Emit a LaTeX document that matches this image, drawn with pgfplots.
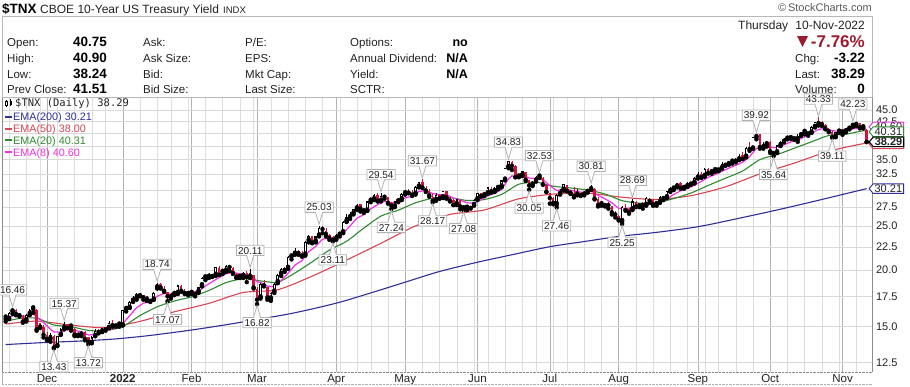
\documentclass[border=0pt]{standalone}
\usepackage{fontspec}
\setmainfont{Liberation Sans}
\newfontfamily\monof{DejaVu Sans Mono}
\usepackage{pgfplots}
\usepackage{pgfplotstable}
\pgfplotsset{compat=1.18}
\usetikzlibrary{shapes.callouts,shapes.symbols}
\newcommand\fs[1]{\fontsize{#1}{#1}\selectfont}
\definecolor{cred}{HTML}{D0143C}
\definecolor{ema200}{HTML}{2E2E96}
\definecolor{ema50}{HTML}{D84452}
\definecolor{ema20}{HTML}{2F8A2F}
\definecolor{ema8}{HTML}{EE30E6}
\definecolor{hdr}{HTML}{9B1B30}
\definecolor{txt}{HTML}{222222}

\pgfplotstableread{
i o h l c t
-12 15.7 15.8 15.4 15.6 2
-11 15.6 16.2 15.6 16.1 1
-10 16.2 16.46 16.0 16.3 1
-9 16.3 16.4 15.9 16.0 0
-8 16.0 16.1 15.8 15.9 0
-7 15.8 15.9 15.3 15.4 0
-6 15.5 16.0 15.4 15.9 1
-5 16.0 16.4 15.9 16.3 1
-4 16.45 16.45 16.1 16.4 2
-3 16.3 16.4 14.7 14.8 0
-2 15.3 15.3 14.9 15.0 0
-1 15.0 15.1 14.2 14.4 0
0 14.4 14.6 14.0 14.1 0
1 14.1 14.5 13.9 14.4 1
2 14.3 14.4 13.43 13.5 0
3 13.6 14.3 13.6 14.3 1
4 14.4 14.9 14.4 14.8 1
5 14.9 15.37 14.8 15.2 1
6 15.2 15.2 14.9 14.9 0
7 15.0 15.1 14.7 14.9 2
8 14.8 14.9 14.3 14.4 0
9 14.5 14.6 14.3 14.4 0
10 14.4 14.7 14.3 14.6 1
11 14.6 14.7 14.0 14.1 0
12 14.2 14.2 13.72 13.9 0
13 13.8 14.3 13.8 14.2 1
14 14.3 14.8 14.3 14.7 1
15 14.7 14.8 14.5 14.6 0
16 14.6 14.9 14.6 14.9 1
17 14.9 14.95 14.7 14.8 0
18 14.9 15.4 14.9 15.3 1
19 15.3 15.5 15.0 15.1 0
20 15.2 15.2 15.0 15.1 0
21 15.15 15.2 15.0 15.1 2
22 15.1 16.3 15.1 16.3 1
23 16.4 16.6 16.2 16.5 1
24 16.5 17.1 16.5 17.0 1
25 17.1 17.5 17.0 17.3 1
26 17.3 17.8 17.2 17.7 1
27 17.7 17.8 17.5 17.6 0
28 17.6 17.6 17.2 17.4 0
29 17.4 17.5 17.1 17.3 0
30 17.2 17.3 17.0 17.1 0
31 17.2 17.9 17.2 17.8 1
32 18.3 18.74 18.2 18.6 1
33 18.6 18.7 18.2 18.3 0
34 18.2 18.4 17.9 18.0 0
35 17.9 17.9 17.07 17.5 0
36 17.4 17.8 17.3 17.7 1
37 17.7 17.9 17.6 17.8 1
38 17.8 18.5 17.7 18.5 1
39 18.4 18.5 17.9 18.0 0
40 18.0 18.2 17.7 17.8 0
41 17.9 17.9 17.6 17.8 0
42 17.8 18.1 17.7 17.9 1
43 17.9 17.95 17.5 17.7 0
44 17.9 18.3 17.8 18.3 1
45 18.5 19.3 18.4 19.2 1
46 19.25 19.3 19.0 19.2 2
47 19.3 19.7 19.2 19.6 1
48 19.5 19.6 19.3 19.4 0
49 19.5 20.3 19.4 20.3 1
50 20.2 20.4 19.5 19.5 0
51 19.8 20.0 19.6 19.9 1
52 19.9 20.5 19.8 20.4 1
53 20.4 20.5 19.9 20.3 0
54 20.2 20.3 19.6 19.7 0
55 19.6 19.7 19.2 19.3 0
56 19.3 19.5 19.2 19.4 1
57 19.4 19.8 19.2 19.7 1
58 19.7 19.9 18.8 19.3 0
59 19.3 20.11 19.2 19.7 1
60 19.5 19.5 18.2 18.3 0
61 18.2 18.3 16.82 17.2 0
62 17.4 18.7 17.3 18.6 1
63 18.7 19.0 18.4 18.5 0
64 18.3 18.3 17.2 17.4 0
65 17.3 17.9 17.1 17.8 1
66 17.9 18.7 17.8 18.6 1
67 18.8 19.6 18.7 19.5 1
68 19.6 20.2 19.4 20.1 1
69 20.1 20.3 19.8 20.0 0
70 20.2 21.5 20.1 21.4 1
71 21.4 21.7 21.1 21.6 1
72 21.7 22.3 21.6 21.9 1
73 21.9 22.1 21.6 21.8 0
74 21.8 22.0 21.4 21.5 0
75 21.6 23.2 21.5 23.1 1
76 23.2 23.9 23.0 23.8 1
77 23.7 23.8 22.9 23.0 0
78 23.1 23.8 23.0 23.7 1
79 23.8 25.03 23.7 24.8 1
80 24.9 24.95 24.1 24.6 0
81 24.4 24.7 23.7 24.0 0
82 23.9 24.0 23.3 23.5 0
83 23.5 23.7 23.11 23.3 0
84 23.4 24.0 23.3 23.9 1
85 23.9 24.3 23.7 24.2 1
86 24.2 25.6 24.1 25.5 1
87 25.6 26.5 25.5 26.1 1
88 26.1 26.8 25.9 26.6 1
89 26.6 27.3 26.5 27.2 1
90 27.3 27.9 27.1 27.8 1
91 27.9 28.0 26.9 27.3 0
92 26.9 27.3 26.7 27.1 3
93 27.0 28.4 27.0 28.3 1
94 28.4 28.8 28.2 28.6 1
95 28.6 29.4 28.5 29.3 1
96 29.3 29.5 28.3 28.4 0
97 28.4 29.54 28.3 29.1 1
98 29.1 29.3 28.7 29.0 0
99 28.9 29.0 28.0 28.1 0
100 28.1 28.2 27.24 27.7 0
101 27.6 28.4 27.5 28.3 1
102 28.3 28.8 28.2 28.5 1
103 28.6 29.5 28.5 29.4 1
104 29.5 30.0 29.3 29.9 1
105 29.9 30.1 29.5 29.6 0
106 29.6 30.0 29.1 29.3 0
107 29.4 30.6 29.3 30.5 1
108 30.5 31.3 30.4 31.2 1
109 31.3 31.67 30.3 30.4 0
110 30.3 30.6 29.7 29.9 0
111 29.9 30.1 29.0 29.2 0
112 29.0 29.4 28.17 28.4 0
113 28.5 29.5 28.4 29.3 1
114 29.3 29.4 28.7 28.8 0
115 28.9 29.9 28.8 29.8 1
116 29.8 29.9 28.7 28.9 0
117 28.8 28.9 28.3 28.4 0
118 28.5 28.6 27.8 27.8 0
119 27.9 28.6 27.8 28.6 1
120 28.5 28.5 27.2 27.6 0
121 27.6 27.7 27.08 27.5 0
122 27.4 27.6 27.1 27.5 1
123 27.5 27.6 27.3 27.4 0
124 27.8 28.6 27.7 28.5 1
125 28.6 29.6 28.5 29.5 1
126 29.5 29.6 29.0 29.1 0
127 29.2 29.6 29.1 29.5 1
128 29.5 30.4 29.4 30.4 1
129 30.2 30.4 29.6 29.8 0
130 29.8 30.4 29.7 30.3 1
131 30.3 30.5 30.1 30.4 1
132 30.5 31.6 30.4 31.5 1
133 31.6 33.6 31.5 33.6 1
134 33.7 34.83 33.5 34.8 1
135 34.6 34.8 33.2 33.9 0
136 33.8 34.0 32.0 32.0 0
137 32.1 32.6 32.0 32.3 1
138 32.3 33.1 32.2 33.0 1
139 32.8 32.9 31.4 31.6 0
140 31.5 31.6 30.05 30.7 0
141 30.8 31.4 30.6 31.3 1
142 31.4 32.2 31.3 32.0 1
143 32.1 32.53 31.9 32.0 2
144 31.9 32.0 30.8 30.9 0
145 30.8 30.9 29.7 29.7 0
146 29.6 29.6 28.0 28.8 0
147 28.8 28.9 27.9 28.1 0
148 27.9 29.4 27.46 29.3 1
149 29.4 30.2 29.3 29.9 1
150 30.0 31.0 29.9 30.9 1
151 30.8 30.8 29.8 29.9 0
152 29.9 30.0 29.4 29.6 0
153 29.4 30.4 28.9 29.1 0
154 29.3 30.2 29.2 29.6 1
155 29.6 29.7 29.1 29.2 0
156 29.3 29.9 29.2 29.6 1
157 29.7 30.2 29.6 30.1 1
158 30.1 30.81 30.0 30.3 1
159 30.2 30.3 28.6 28.7 0
160 28.6 28.9 27.6 27.8 0
161 27.9 28.2 27.7 28.1 1
162 28.0 28.1 27.6 27.8 0
163 27.9 28.2 27.3 27.8 0
164 27.6 27.7 26.5 26.8 0
165 26.7 27.0 26.1 26.5 0
166 26.3 26.4 25.7 25.8 0
167 25.6 27.6 25.25 27.5 1
168 27.4 28.0 27.0 27.1 0
169 27.3 27.4 26.6 26.8 0
170 27.2 28.69 27.1 28.3 1
171 28.2 28.3 27.5 27.6 0
172 27.6 28.0 27.5 27.9 1
173 28.0 28.2 27.3 27.8 0
174 27.8 28.9 27.7 28.8 1
175 28.6 28.8 28.1 28.4 0
176 28.5 28.6 27.7 27.9 0
177 27.9 28.2 27.7 28.1 1
178 28.2 29.1 28.1 28.9 1
179 28.9 29.0 28.5 28.8 0
180 28.9 29.9 28.8 29.8 1
181 29.8 30.4 29.7 30.3 1
182 30.2 30.6 30.0 30.5 1
183 30.5 31.1 30.4 31.1 1
184 31.1 31.2 30.2 30.3 0
185 30.3 30.6 30.2 30.4 1
186 30.6 31.2 30.5 31.1 1
187 31.1 31.2 30.8 31.0 0
188 31.1 32.0 31.0 31.9 1
189 31.9 32.8 31.8 32.6 1
190 32.6 32.8 31.9 32.0 0
191 32.2 33.5 32.1 33.4 1
192 33.4 33.5 32.6 32.7 0
193 32.8 33.2 32.6 33.1 1
194 33.15 33.2 32.9 33.1 2
195 33.1 33.6 33.0 33.4 1
196 33.5 34.5 33.4 34.2 1
197 34.2 34.3 33.9 34.1 0
198 34.2 34.6 34.1 34.5 1
199 34.6 35.0 34.3 34.5 2
200 34.6 35.2 34.5 34.9 1
201 35.0 36.0 34.9 35.6 1
202 35.8 36.4 35.1 35.1 0
203 35.5 37.3 35.4 37.1 1
204 37.2 38.3 36.6 36.9 0
205 37.0 39.3 37.0 39.2 1
206 39.2 39.92 38.8 39.6 1
207 39.8 39.9 37.0 37.3 0
208 37.2 38.2 37.0 37.8 1
209 37.8 38.4 37.4 38.3 1
210 38.3 38.4 36.2 36.5 0
211 36.4 36.5 35.64 36.2 0
212 36.3 37.7 36.2 37.6 1
213 37.6 38.4 37.5 38.3 1
214 38.3 39.1 38.2 38.9 1
215 38.9 39.1 38.8 38.95 1
216 39.0 39.5 38.9 39.3 1
217 39.3 39.4 38.7 39.0 0
218 38.8 39.9 38.3 39.5 1
219 39.6 40.2 39.5 40.1 1
220 40.25 40.4 39.8 40.2 2
221 40.1 40.3 39.5 40.0 0
222 40.1 41.4 40.1 41.3 1
223 41.3 42.4 41.2 42.3 1
224 42.6 43.33 41.6 42.1 0
225 42.3 42.5 41.5 41.9 0
226 41.8 41.9 40.8 41.0 0
227 40.9 41.0 40.2 40.4 0
228 40.3 40.4 39.11 39.2 0
229 39.3 40.3 39.2 40.2 1
230 40.3 40.7 40.1 40.5 1
231 40.6 40.8 39.7 40.4 0
232 40.4 41.0 40.2 40.6 1
233 40.9 41.5 40.8 41.4 1
234 41.5 42.23 41.3 41.6 1
235 41.7 42.1 41.5 42.1 1
236 42.1 42.2 41.0 41.2 0
237 41.2 41.6 41.0 41.51 1
238 40.75 40.90 38.24 38.29 0
}\candles

\pgfplotstableread{
x y lab
-10 16.46 16.46
5 15.37 15.37
32 18.74 18.74
59 20.11 20.11
79 25.03 25.03
97 29.54 29.54
109 31.67 31.67
134 34.83 34.83
143 32.53 32.53
158 30.81 30.81
170 28.69 28.69
206 39.92 39.92
224 43.33 43.33
234 42.23 42.23
}\highs

\pgfplotstableread{
x y lab
2 13.43 13.43
12 13.72 13.72
35 17.07 17.07
61 16.82 16.82
83 23.11 23.11
100 27.24 27.24
112 28.17 28.17
121 27.08 27.08
140 30.05 30.05
148 27.46 27.46
167 25.25 25.25
211 35.64 35.64
228 39.11 39.11
}\lows

\pgfplotsset{
  body/.style n args={2}{only marks, mark=none, forget plot,
    error bars/y dir=plus, error bars/y explicit, error bars/error mark=none,
    error bars/error bar style={line width=#1, line cap=butt, color=#2}},
  lab/.style={only marks, mark=none, forget plot, nodes near coords, point meta=explicit symbolic,
    nodes near coords style={rectangle callout, /tikz/draw=black!30, /tikz/line width=0.8pt,
      /tikz/fill=white, text=txt,
      font=\fs{10}, inner xsep=1.6pt, inner ysep=1.5pt, text height=7.3pt, text depth=0pt,
      callout relative pointer={(canvas cs:x=0pt,y=#1)}, callout pointer width=7pt, anchor=pointer}},
}

\begin{document}
\begin{tikzpicture}
\useasboundingbox (0,0) rectangle (910pt,-386pt);
\begin{axis}[
  at={(2pt,-372pt)}, anchor=south west, scale only axis,
  width=870.5pt, height=275pt,
  xmin=-13.06, xmax=239.7,
  ymode=log, ymin=11.92, ymax=48.07,
  clip=false,
  ytick={12.5,15,17.5,20,22.5,25,27.5,30,32.5,35,37.5,40,42.5,45},
  yticklabels={12.5,15.0,17.5,20.0,22.5,25.0,27.5,30.0,32.5,35.0,37.5,40.0,42.5,45.0},
  minor ytick={},
  yticklabel pos=right,
  yticklabel style={font=\fs{11}, text=txt, xshift=0pt},
  xtick={0,22,42,61,84,104,125,146,166,189,210,231},
  xticklabels={Dec,\textbf{2022},Feb,Mar,Apr,May,Jun,Jul,Aug,Sep,Oct,Nov},
  xticklabel style={font=\fs{11.5}, text=txt, yshift=1pt},
  minor xtick={-11,-6,-2,3,8,13,17,27,32,36,41,46,51,56,60,65,70,75,80,85,90,94,99,109,114,119,124,128,133,138,142,147,151,156,161,171,176,181,186,191,195,200,205,215,220,225,230,235},
  xmajorgrids, xminorgrids, ymajorgrids,
  major x grid style={color=black!30},
  minor x grid style={color=black!13},
  major y grid style={color=black!15},
  tick style={draw=none},
  separate axis lines,
  axis line style={black!45},
  x axis line style={densely dotted},
]
% EMA lines
\addplot[ema200, line width=1.1pt, smooth, tension=0.5] coordinates {
(-12,13.7) (0,13.85) (10,13.95) (20,14.1) (30,14.35) (42,14.75) (52,15.15) (62,15.6) (72,16.1) (84,16.9) (94,17.8) (104,18.8) (114,19.85) (125,20.8) (135,21.6) (146,22.5) (156,23.1) (166,23.7) (177,24.2) (189,24.9) (200,25.9) (210,26.9) (220,28.0) (230,29.2) (238,30.21)};
\addplot[ema50, line width=1.1pt, smooth, tension=0.4] coordinates {
(-12,15.2) (-3,15.43) (7,15.12) (17,14.92) (27,15.41) (37,16.18) (47,16.88) (57,17.84) (67,18.09) (77,19.38) (87,21.03) (97,22.9) (107,25.0) (117,26.5) (127,27.11) (137,28.69) (147,29.38) (157,29.52) (167,28.92) (177,28.58) (187,29.15) (197,30.48) (207,32.56) (217,34.38) (227,36.53) (237,37.95) (238,38.00)};
\addplot[ema20, line width=1.1pt, smooth, tension=0.4] coordinates {
(-12,15.4) (-8,15.64) (-3,15.66) (2,15.13) (7,15.0) (12,14.72) (17,14.69) (22,15.01) (27,15.87) (32,16.59) (37,17.09) (42,17.45) (47,18.02) (52,18.76) (57,19.13) (62,18.92) (67,18.79) (72,19.70) (77,20.84) (82,22.12) (87,23.13) (92,24.73) (97,26.29) (102,27.08) (107,28.11) (112,28.77) (117,28.86) (122,28.44) (127,28.58) (132,29.33) (137,30.89) (142,31.21) (147,30.58) (152,30.31) (157,29.99) (162,29.40) (167,28.42) (172,28.06) (177,28.11) (182,28.73) (187,29.54) (192,30.70) (197,31.84) (202,33.04) (207,34.99) (212,35.90) (217,37.08) (222,38.31) (227,39.56) (232,39.81) (237,40.51) (238,40.31)};
\addplot[ema8, line width=1.2pt] coordinates {
(-12,15.6) (-10,15.84) (-8,15.88) (-6,15.80) (-4,16.02) (-3,15.75) (-2,15.58) (0,15.05) (2,14.60) (4,14.59) (6,14.77) (8,14.71) (10,14.63) (12,14.38) (14,14.42) (16,14.56) (18,14.76) (20,14.90) (22,15.24) (24,15.85) (26,16.51) (28,16.90) (30,17.01) (32,17.50) (34,17.75) (36,17.70) (38,17.89) (40,17.89) (42,17.88) (44,17.94) (46,18.44) (48,18.85) (50,19.25) (52,19.62) (54,19.75) (56,19.60) (58,19.55) (60,19.30) (61,18.83) (62,18.78) (64,18.43) (66,18.36) (68,18.94) (70,19.67) (72,20.50) (74,20.95) (76,21.95) (78,22.52) (80,23.38) (82,23.51) (84,23.56) (86,24.10) (88,25.00) (90,26.00) (92,26.47) (94,27.26) (96,27.86) (98,28.33) (100,28.15) (102,28.25) (104,28.82) (106,29.06) (108,29.78) (110,29.92) (112,29.46) (114,29.28) (116,29.29) (118,28.80) (120,28.50) (122,28.11) (124,28.07) (126,28.55) (128,29.12) (130,29.50) (132,30.10) (133,30.88) (134,31.75) (135,32.23) (136,32.18) (138,32.38) (140,31.87) (142,31.80) (144,31.64) (146,30.67) (148,29.92) (150,30.14) (152,29.98) (154,29.74) (156,29.62) (158,29.85) (160,29.20) (162,28.70) (164,28.12) (166,27.33) (168,27.31) (170,27.44) (172,27.57) (174,27.89) (176,27.98) (178,28.21) (180,28.66) (182,29.35) (184,29.87) (186,30.23) (188,30.74) (190,31.34) (192,32.00) (194,32.43) (196,32.99) (198,33.52) (200,34.00) (202,34.52) (204,35.49) (205,36.32) (206,37.04) (208,37.26) (210,37.27) (212,37.16) (214,37.74) (216,38.29) (218,38.68) (220,39.27) (222,39.84) (223,40.39) (224,40.77) (226,41.02) (228,40.51) (230,40.45) (232,40.48) (234,40.88) (236,41.16) (237,41.24) (238,40.60)};
% wicks
\addplot[body={0.6pt}{cred},
  restrict expr to domain={(\thisrow{t}==0)||(\thisrow{t}==3)}{1:1}]
  table[x=i, y=l, y error expr=\thisrow{h}-\thisrow{l}] {\candles};
\addplot[body={0.6pt}{black},
  restrict expr to domain={(\thisrow{t}==1)||(\thisrow{t}==2)}{1:1}]
  table[x=i, y=l, y error expr=\thisrow{h}-\thisrow{l}] {\candles};
% filled bodies
\addplot[body={2.4pt}{cred}, restrict expr to domain={\thisrow{t}}{0:0}]
  table[x=i, y=c, y error expr=\thisrow{o}-\thisrow{c}] {\candles};
\addplot[body={2.4pt}{black}, restrict expr to domain={\thisrow{t}}{2:2}]
  table[x=i, y=c, y error expr=\thisrow{o}-\thisrow{c}] {\candles};
% hollow bodies
\addplot[body={2.5pt}{black}, restrict expr to domain={\thisrow{t}}{1:1}]
  table[x=i, y=o, y error expr=\thisrow{c}-\thisrow{o}] {\candles};
\addplot[body={2.5pt}{cred}, restrict expr to domain={\thisrow{t}}{3:3}]
  table[x=i, y=o, y error expr=\thisrow{c}-\thisrow{o}] {\candles};
\addplot[body={1.1pt}{white}, restrict expr to domain={\thisrow{t}}{1:3}]
  table[x=i, y expr=\thisrow{o}*1.006, y error expr={max(\thisrow{c}/1.006-\thisrow{o}*1.006,0)}] {\candles};
% labels
\addplot[lab=-11.9pt] table[x=x, y=y, meta=lab] {\highs};
\addplot[lab=11.9pt] table[x=x, y=y, meta=lab] {\lows};
\coordinate (tM) at (axis cs:239.7,41.3);
\coordinate (tG) at (axis cs:239.7,40.31);
\coordinate (tR) at (axis cs:239.7,37.9);
\coordinate (tK) at (axis cs:239.7,38.29);
\coordinate (tB) at (axis cs:239.7,30.21);
\end{axis}

\tikzset{tag/.style={signal, signal to=west, signal pointer angle=100, fill=white, line width=0.9pt,
  inner xsep=1.5pt, inner ysep=0.8pt, text height=7.6pt, text depth=0.4pt, font=\fs{11}, text=txt,
  anchor=west, xshift=-4pt}}
\node[tag, draw=ema8] at (tM) {40.60};
\node[tag, draw=ema20] at (tG) {40.31};
\node[tag, draw=ema50] at (tR) {38.00};
\node[tag, draw=black, line width=1.1pt, font=\fs{11}\bfseries] at (tK) {38.29};
\node[tag, draw=ema200] at (tB) {30.21};

\begin{scope}[x=1pt,y=-1pt]
\draw[black!28] (2,16) rectangle (872.5,97);
\draw[black!30, densely dotted] (2,384.5) -- (872.5,384.5);
\draw[black!30] (2,372) -- (2,384.5);
% title
\node[anchor=base west, inner sep=0, text=black] at (2,13) {\fs{13.5}\bfseries\$TNX};
\node[anchor=base west, inner sep=0, text=txt] at (40,13) {\fs{12}CBOE 10-Year US Treasury Yield};
\node[anchor=base west, inner sep=0, text=txt] at (223,13) {\fs{9.5}INDX};
\node[anchor=base east, inner sep=0, text=black!65] at (872,11) {\fs{11}\textcopyright\,StockCharts.com};
% stats
\foreach \lab/\val/\y in {Open:/40.75/46, High:/40.90/62, Low:/38.24/78, Prev Close:/41.51/93.5}{
  \node[anchor=base west, inner sep=0, text=txt] at (7,\y) {\fs{11.5}\lab};
  \node[anchor=base east, inner sep=0, text=black] at (107,\y) {\fs{13.5}\bfseries\val};
}
\foreach \lab/\y in {Ask:/46, Ask Size:/62, Bid:/78, Bid Size:/93.5}{
  \node[anchor=base west, inner sep=0, text=txt] at (143,\y) {\fs{11.5}\lab};}
\foreach \lab/\y in {P\slash E:/46, EPS:/62, Mkt Cap:/78, Last Size:/93.5}{
  \node[anchor=base west, inner sep=0, text=txt] at (245,\y) {\fs{11.5}\lab};}
\foreach \lab/\y in {Options:/46, Annual Dividend:/62, Yield:/78, SCTR:/93.5}{
  \node[anchor=base west, inner sep=0, text=txt] at (350,\y) {\fs{11.5}\lab};}
\foreach \val/\y in {no/46, N\slash A/62, N\slash A/78}{
  \node[anchor=base east, inner sep=0, text=black] at (468,\y) {\fs{12.5}\bfseries\val};}
% right block
\node[anchor=base east, inner sep=0, text=txt] at (865,29) {\fs{12}Thursday\hspace{0.6em}10-Nov-2022};
\fill[hdr] (797,36) -- (808,36) -- (802.5,47) -- cycle;
\node[anchor=base east, inner sep=0, text=hdr] at (865,47) {\fs{17}\bfseries -7.76\%};
\node[anchor=base west, inner sep=0, text=txt] at (795,62) {\fs{11.5}Chg:};
\node[anchor=base east, inner sep=0, text=black] at (865,62) {\fs{13.5}\bfseries -3.22};
\node[anchor=base west, inner sep=0, text=txt] at (795,78) {\fs{11.5}Last:};
\node[anchor=base east, inner sep=0, text=black] at (865,78) {\fs{13.5}\bfseries 38.29};
\node[anchor=base west, inner sep=0, text=txt] at (795,93.5) {\fs{11.5}Volume:};
\node[anchor=base east, inner sep=0, text=black] at (865,93.5) {\fs{13.5}\bfseries 0};
% legend
\draw[black, line width=0.6pt] (6,99.5) -- (6,106.5) (10.5,99) -- (10.5,106);
\filldraw[draw=black, fill=white, line width=0.5pt] (5,101) rectangle (7,105);
\fill[black] (9.5,100.5) rectangle (11.5,104.5);
\node[anchor=base west, inner sep=0, text=txt] at (15,106.5) {\monof\fs{10.5}\$TNX (Daily) 38.29};
\foreach \c/\t/\y in {ema200/EMA(200) 30.21/120.5, ema50/EMA(50) 38.00/132.5, ema20/EMA(20) 40.31/144, ema8/EMA(8) 40.60/156}{
  \draw[\c, line width=1.6pt] (5,\y-3.8) -- (12,\y-3.8);
  \node[anchor=base west, inner sep=0, text=\c] at (13,\y) {\fs{10.8}\t};
}
\end{scope}
\end{tikzpicture}
\end{document}
